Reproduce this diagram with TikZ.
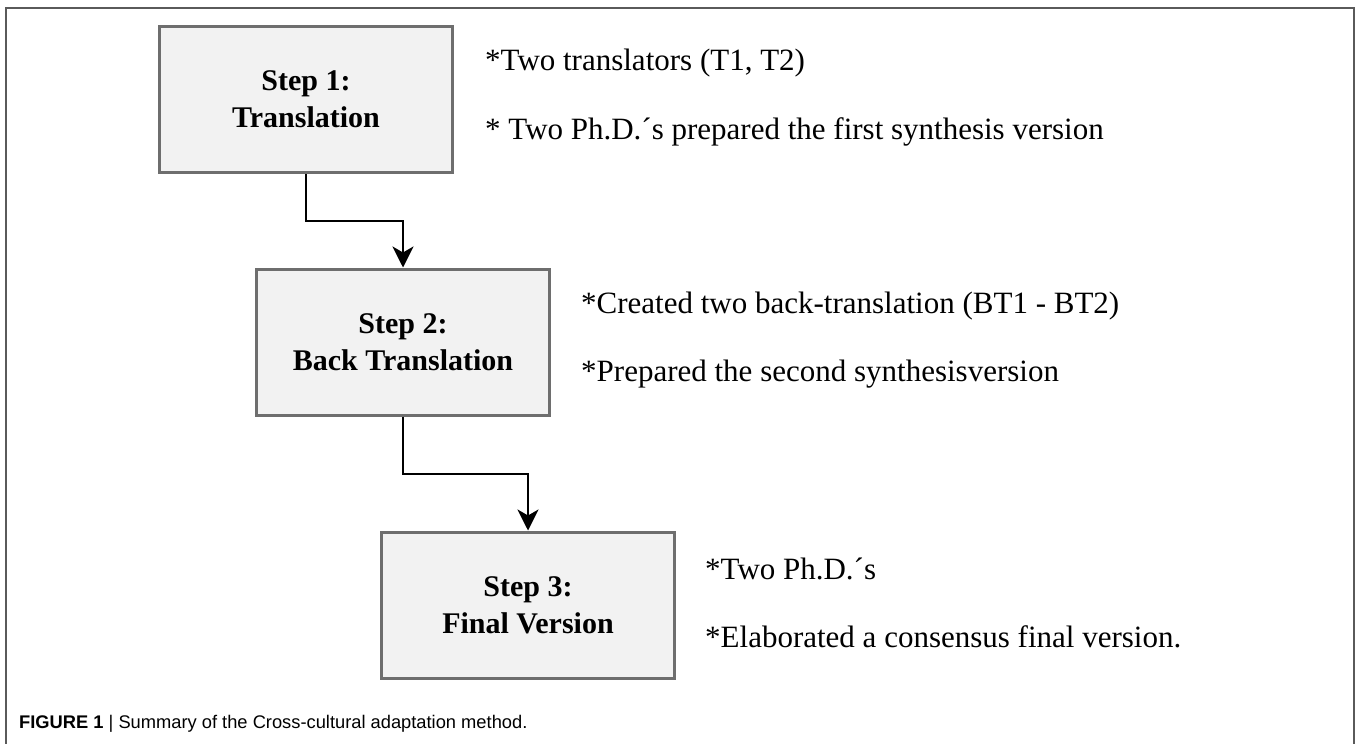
\documentclass[tikz,border=0pt]{standalone}
\usepackage{fontspec}
\setmainfont{Liberation Serif}
\newfontfamily\capfont{Liberation Sans}
\usetikzlibrary{arrows.meta}

\definecolor{boxfill}{HTML}{F2F2F2}
\definecolor{boxline}{HTML}{6E6E6E}
\definecolor{frameline}{HTML}{5A5A5A}

\tikzset{
  stepbox/.style={draw=boxline, line width=3pt, fill=boxfill,
    minimum width=293pt, minimum height=146pt, align=center,
    font=\fontsize{30}{37}\selectfont\bfseries, inner sep=0pt},
  note/.style={anchor=west, inner sep=0pt,
    font=\fontsize{31}{36}\selectfont},
  flow/.style={draw=black, line width=2.5pt,
    -{Stealth[length=21pt,width=21pt,inset=6pt]}},
}

\begin{document}
\begin{tikzpicture}[x=1pt,y=-1pt]
\useasboundingbox (0,0) rectangle (1358,744);

% outer frame, open at the bottom
\draw[frameline, line width=1.6pt] (6,760) -- (6,8) -- (1354,8) -- (1354,760);

% process steps
\node[stepbox] (s1) at (306,99.5) {Step 1:\\Translation};
\node[stepbox] (s2) at (403,342) {Step 2:\\Back Translation};
\node[stepbox] (s3) at (528,605) {Step 3:\\Final Version};

% bends of the connectors
\coordinate (k1) at (306,221);
\coordinate (k2) at (403,474);

\draw[flow] (s1.south) -- (k1) -| (s2.north);
\draw[flow] (s2.south) -- (k2) -| (s3.north);

% notes beside each step
\node[note] (n1a) at ([xshift=31pt,yshift=36pt]s1.east) {*Two translators (T1, T2)};
\node[note] (n1b) at ([xshift=31pt,yshift=-32pt]s1.east) {* Two Ph.D.´s prepared the first synthesis version};
\node[note] (n2a) at ([xshift=30pt,yshift=36pt]s2.east) {*Created two back-translation (BT1 - BT2)};
\node[note] (n2b) at ([xshift=30pt,yshift=-32pt]s2.east) {*Prepared the second synthesisversion};
\node[note] (n3a) at ([xshift=29pt,yshift=36pt]s3.east) {*Two Ph.D.´s};
\node[note] (n3b) at ([xshift=29pt,yshift=-32pt]s3.east) {*Elaborated a consensus final version.};

% caption
\node[anchor=base west, inner sep=0pt, font=\capfont\fontsize{18.3}{22}\selectfont]
  (cap) at (19,728) {\textbf{FIGURE 1} | Summary of the Cross-cultural adaptation method.};
\end{tikzpicture}
\end{document}
